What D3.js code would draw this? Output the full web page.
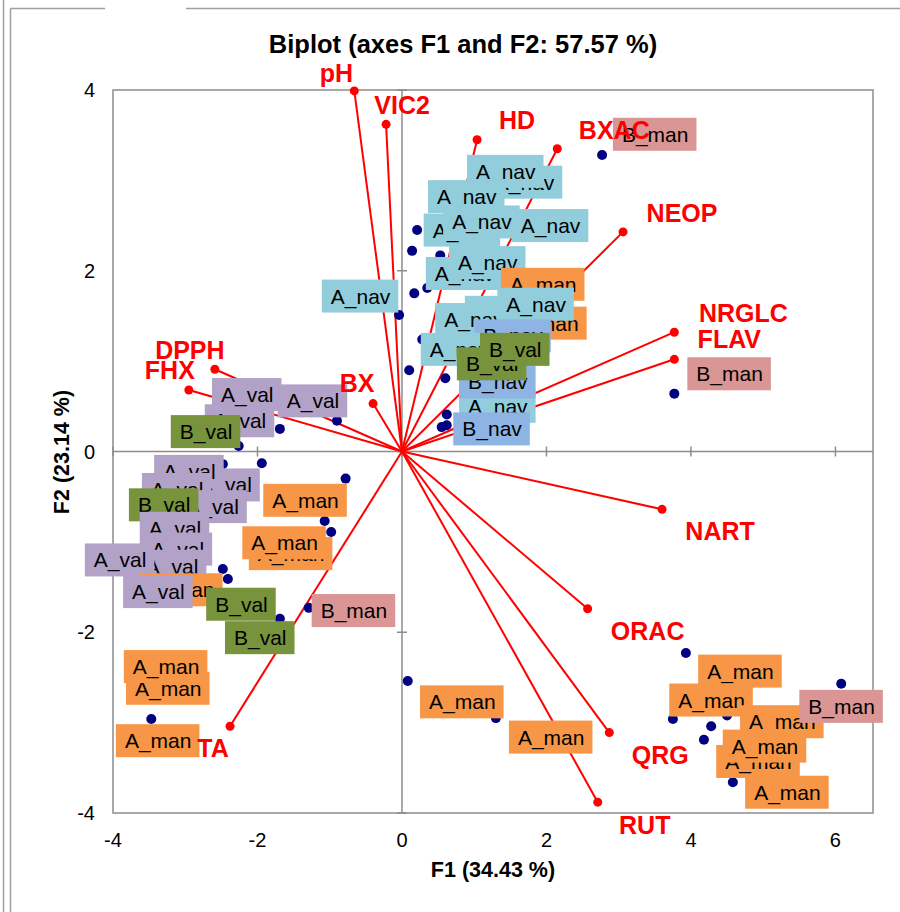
<!DOCTYPE html>
<html>
<head>
<meta charset="utf-8">
<script src="https://cdn.jsdelivr.net/npm/d3@7"></script>
<style>
  body { margin: 0; background: #fff; }
  svg { display: block; font-family: Arial, "Liberation Sans", sans-serif; }
</style>
</head>
<body>
<script>
// variables (loadings)
var varNames = ['pH', 'VIC2', 'HD', 'BXAC', 'NEOP', 'NRGLC', 'FLAV', 'BX', 'DPPH', 'FHX', 'NART', 'ORAC', 'QRG', 'RUT', 'TA'];
var varF1 = [-0.66, -0.22, 1.04, 2.15, 3.06, 3.77, 3.77, -0.40, -2.59, -2.95, 3.60, 2.57, 2.87, 2.71, -2.38];
var varF2 = [3.99, 3.62, 3.45, 3.35, 2.43, 1.32, 1.02, 0.53, 0.91, 0.68, -0.64, -1.74, -3.11, -3.88, -3.04];

// observations (visible points)
var obsF1 = [2.77, 0.21, 0.14, 0.53, 0.17, 0.35, -0.04, 0.28, 0.10, 0.60, 0.62, 0.55, 0.62, 3.77,
  -0.90, -1.69, -2.26, -1.94, -0.78, -2.48, -1.07, -0.98, -2.48, -2.41, -1.69, -1.29, -3.47,
  0.08, 1.30, 3.93, 3.75, 4.28, 4.18, 4.50, 6.08, 4.58];
var obsF2 = [3.28, 2.45, 2.22, 2.17, 1.75, 1.81, 1.51, 1.24, 0.90, 0.81, 0.41, 0.27, 0.29, 0.64,
  0.34, 0.25, 0.06, -0.13, -0.30, -0.14, -0.77, -0.89, -1.30, -1.41, -1.85, -1.73, -2.96,
  -2.54, -2.95, -2.23, -2.96, -3.04, -3.19, -2.92, -2.57, -3.66];

// observation labels (group, left edge F1, middle F2), in drawing order
var labelGroup = ['A_nav', 'A_nav', 'A_nav', 'A_nav', 'A_nav', 'A_nav', 'A_nav', 'A_nav', 'A_man', 'A_man',
  'A_nav', 'A_nav', 'A_nav', 'B_nav', 'A_nav', 'A_nav', 'B_nav', 'B_val', 'B_val', 'B_nav', 'A_nav',
  'B_man', 'B_man',
  'A_val', 'A_val', 'A_val', 'B_val', 'A_val', 'A_val', 'A_val', 'A_val', 'B_val', 'A_val', 'A_val',
  'A_val', 'A_val', 'A_man', 'A_val', 'B_val', 'B_val', 'A_man', 'A_man', 'A_man', 'B_man',
  'A_man', 'A_man', 'A_man',
  'A_man', 'A_man', 'A_man', 'A_man', 'A_man', 'A_man', 'A_man', 'B_man', 'A_man'];
var labelF1 = [1.16, 0.90, 0.36, 0.30, 0.57, 1.52, 0.33, 0.65, 1.37, 1.40,
  0.87, 0.46, 1.32, 1.00, 0.26, 0.79, 0.79, 0.76, 1.08, 0.71, -1.11,
  2.92, 3.95,
  -2.73, -1.72, -2.63, -3.20, -2.93, -3.43, -3.60, -3.11, -3.78, -3.63, -3.59,
  -3.67, -4.39, -3.64, -3.86, -2.71, -2.45, -1.92, -2.12, -2.21, -1.25,
  -3.82, -3.85, -3.96,
  0.25, 1.48, 4.10, 3.70, 4.35, 4.68, 4.44, 5.50, 4.75];
var labelF2 = [2.98, 3.10, 2.82, 2.45, 2.54, 2.50, 1.97, 2.09, 1.85, 1.42,
  1.54, 1.46, 1.63, 1.28, 1.13, 0.50, 0.77, 0.97, 1.13, 0.25, 1.72,
  3.51, 0.86,
  0.34, 0.56, 0.63, 0.22, -0.37, -0.22, -0.42, -0.61, -0.59, -0.85, -1.08,
  -1.27, -1.20, -1.53, -1.55, -1.69, -2.06, -0.54, -1.13, -1.01, -1.76,
  -2.62, -2.38, -3.20,
  -2.77, -3.16, -2.43, -2.75, -3.43, -2.99, -3.26, -2.82, -3.77];

var xTicks = [-4, -2, 0, 2, 4, 6];
var yTicks = [-4, -2, 0, 2, 4];

var groupColor = {
  A_nav: '#92cddc', B_nav: '#8eb4e3', A_val: '#b3a2c7',
  B_val: '#77933c', A_man: '#f79646', B_man: '#d99694'
};
// pixel shift of each variable label from its arrow tip
var varLabelShift = {
  pH: [-18, -18], VIC2: [16, -19], HD: [40, -20], BXAC: [57, -19], NEOP: [59, -19],
  NRGLC: [69, -19], FLAV: [55, -20], BX: [-16, -21], DPPH: [-25, -19], FHX: [-19, -20],
  NART: [58, 22], ORAC: [60, 22], QRG: [51, 22], RUT: [47, 23], TA: [-17, 22]
};

var W = 900, H = 912;
var svg = d3.select('body').append('svg').attr('width', W).attr('height', H);

var x = d3.scaleLinear().domain([-4, 6.52]).range([113, 873]);
var y = d3.scaleLinear().domain([-4, 4]).range([813, 90]);

// outer chart frame fragments
var frame = '#a0a0a0';
svg.append('line').attr('x1', 3.5).attr('x2', 3.5).attr('y1', 0).attr('y2', H).attr('stroke', frame).attr('stroke-width', 1.5);
svg.append('line').attr('x1', 10.5).attr('x2', 10.5).attr('y1', 8.5).attr('y2', H).attr('stroke', frame).attr('stroke-width', 1.5);
svg.append('line').attr('x1', 10.5).attr('x2', 105).attr('y1', 8.5).attr('y2', 8.5).attr('stroke', frame).attr('stroke-width', 1.5);
svg.append('line').attr('x1', 186).attr('x2', W).attr('y1', 8.5).attr('y2', 8.5).attr('stroke', frame).attr('stroke-width', 1.5);

// plot area
svg.append('rect')
  .attr('x', x(-4)).attr('y', y(4))
  .attr('width', x(6.52) - x(-4)).attr('height', y(-4) - y(4))
  .attr('fill', 'none').attr('stroke', '#8c8c8c').attr('stroke-width', 1.5);

// zero axes with cross ticks
var axisCol = '#8c8c8c';
svg.append('line').attr('x1', x(-4)).attr('x2', x(6.52)).attr('y1', y(0)).attr('y2', y(0))
  .attr('stroke', axisCol).attr('stroke-width', 1.5);
svg.append('line').attr('x1', x(0)).attr('x2', x(0)).attr('y1', y(4)).attr('y2', y(-4))
  .attr('stroke', axisCol).attr('stroke-width', 1.5);
svg.selectAll('line.xt').data(xTicks).enter().append('line').attr('class', 'xt')
  .attr('x1', function(d) { return x(d); }).attr('x2', function(d) { return x(d); })
  .attr('y1', y(0) - 5).attr('y2', y(0) + 5)
  .attr('stroke', axisCol).attr('stroke-width', 1.5);
svg.selectAll('line.yt').data(yTicks).enter().append('line').attr('class', 'yt')
  .attr('x1', x(0) - 5).attr('x2', x(0) + 5)
  .attr('y1', function(d) { return y(d); }).attr('y2', function(d) { return y(d); })
  .attr('stroke', axisCol).attr('stroke-width', 1.5);

// tick labels
svg.selectAll('text.xl').data(xTicks).enter().append('text').attr('class', 'xl')
  .attr('x', function(d) { return x(d); }).attr('y', 847)
  .attr('text-anchor', 'middle').attr('font-size', 20).attr('fill', '#000')
  .text(function(d) { return d; });
svg.selectAll('text.yl').data(yTicks).enter().append('text').attr('class', 'yl')
  .attr('x', 95).attr('y', function(d) { return y(d) + 7; })
  .attr('text-anchor', 'end').attr('font-size', 20).attr('fill', '#000')
  .text(function(d) { return d; });

// titles
svg.append('text').attr('x', 463).attr('y', 53).attr('text-anchor', 'middle')
  .attr('font-size', 25.5).attr('font-weight', 'bold').text('Biplot (axes F1 and F2: 57.57 %)');
svg.append('text').attr('x', 493).attr('y', 877).attr('text-anchor', 'middle')
  .attr('font-size', 21.5).attr('font-weight', 'bold').text('F1 (34.43 %)');
svg.append('text').attr('transform', 'translate(69,452) rotate(-90)').attr('text-anchor', 'middle')
  .attr('font-size', 21.5).attr('font-weight', 'bold').text('F2 (23.14 %)');

// variable vectors
var vars = varNames.map(function(n, i) { return { name: n, f1: varF1[i], f2: varF2[i] }; });
svg.selectAll('line.vec').data(vars).enter().append('line').attr('class', 'vec')
  .attr('x1', x(0)).attr('y1', y(0))
  .attr('x2', function(d) { return x(d.f1); }).attr('y2', function(d) { return y(d.f2); })
  .attr('stroke', '#ff0000').attr('stroke-width', 2);
svg.selectAll('circle.vtip').data(vars).enter().append('circle').attr('class', 'vtip')
  .attr('cx', function(d) { return x(d.f1); }).attr('cy', function(d) { return y(d.f2); })
  .attr('r', 4.5).attr('fill', '#ff0000');

// observation points
var obs = obsF1.map(function(v, i) { return { f1: v, f2: obsF2[i] }; });
svg.selectAll('circle.obs').data(obs).enter().append('circle').attr('class', 'obs')
  .attr('cx', function(d) { return x(d.f1); }).attr('cy', function(d) { return y(d.f2); })
  .attr('r', 5).attr('fill', '#000080');

// observation labels
var labs = labelGroup.map(function(g, i) { return { g: g, f1: labelF1[i], f2: labelF2[i] }; });
var lg = svg.selectAll('g.lab').data(labs).enter().append('g').attr('class', 'lab')
  .attr('transform', function(d) { return 'translate(' + x(d.f1) + ',' + y(d.f2) + ')'; });
lg.append('rect').attr('y', -16.5).attr('height', 33)
  .attr('fill', function(d) { return groupColor[d.g]; });
lg.append('text').attr('x', 9).attr('y', 7.5).attr('font-size', 21).attr('fill', '#000')
  .text(function(d) { return d.g; });
lg.each(function() {
  var g = d3.select(this);
  var w = g.select('text').node().getComputedTextLength();
  g.select('rect').attr('width', w + 17);
});

// variable labels, drawn above the boxes
svg.selectAll('text.vl').data(vars).enter().append('text').attr('class', 'vl')
  .attr('x', function(d) { return x(d.f1) + varLabelShift[d.name][0]; })
  .attr('y', function(d) { return y(d.f2) + varLabelShift[d.name][1] + 9; })
  .attr('text-anchor', 'middle').attr('font-size', 25).attr('font-weight', 'bold')
  .attr('fill', '#ff0000')
  .text(function(d) { return d.name; });
</script>
</body>
</html>
